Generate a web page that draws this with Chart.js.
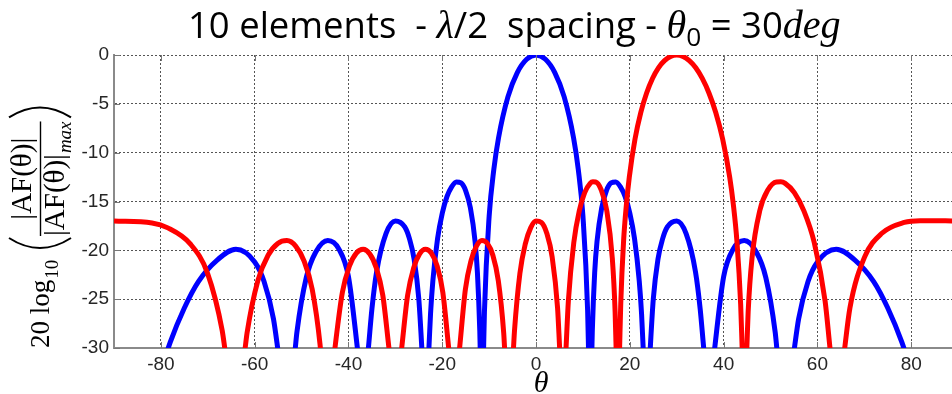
<!DOCTYPE html>
<html>
<head>
<meta charset="utf-8">
<script src="https://cdn.jsdelivr.net/npm/chart.js@4.4.1/dist/chart.umd.min.js"></script>
<style>
  body { margin: 0; background: #fff; }
  #wrap { width: 952px; height: 394px; position: relative; }
</style>
</head>
<body>
<div id="wrap"><canvas id="af"></canvas></div>
<script>
// tick labels
const xTicks = [-80, -60, -40, -20, 0, 20, 40, 60, 80];
const yTicks = [0, -5, -10, -15, -20, -25, -30];

// steering 0 deg (blue); nulls sit below the axis
const blueTheta = [-90, -84, -79, -78, -75, -72, -68, -64, -60, -58, -56, -55.1, -53.13, -51.4, -51, -49, -47, -44.4, -42, -40, -38.1, -36.87, -35.75, -35, -34, -32, -30, -28, -27, -26, -25, -24.3, -23.58, -22.9, -22.5, -22, -21, -20, -19, -18, -17, -16, -15, -14, -13, -12.5, -12, -11.9, -11.54, -11.2, -11, -10, -9, -8, -6, -4, -2, 0,
  2, 4, 6, 8, 9, 10, 11, 11.2, 11.54, 11.9, 12, 12.5, 13, 14, 15, 16, 17, 18, 19, 20, 21, 22, 22.5, 22.9, 23.58, 24.3, 25, 26, 27, 28, 30, 32, 34, 35, 35.75, 36.87, 38.1, 40, 42, 44.4, 47, 49, 51, 51.4, 53.13, 55.1, 56, 58, 60, 64, 68, 72, 75, 78, 79, 84, 90];
const blueDb = [-60, -41, -30.9, -29.4, -25.9, -23.2, -21.0, -19.9, -21.2, -23.2, -27.0, -30, -37.5, -30.3, -28.4, -22.8, -20.2, -19.0, -19.9, -22.7, -30, -35.5, -30, -26.0, -22.2, -18.3, -17.0, -17.6, -18.8, -20.9, -25.0, -30.5, -37, -30.6, -26.5, -23.1, -18.8, -16.2, -14.5, -13.5, -13.0, -13.1, -13.9, -15.65, -19.1, -22.3, -28.2, -30.3, -38, -30.4, -26.2, -16.5, -11.7, -8.48, -4.29, -1.80, -0.44, 0,
  -0.44, -1.80, -4.29, -8.48, -11.7, -16.5, -26.2, -30.4, -38, -30.3, -28.2, -22.3, -19.1, -15.65, -13.9, -13.1, -13.0, -13.5, -14.5, -16.2, -18.8, -23.1, -26.5, -30.6, -37, -30.5, -25.0, -20.9, -18.8, -17.6, -17.0, -18.3, -22.2, -26.0, -30, -35.5, -30, -22.7, -19.9, -19.0, -20.2, -22.8, -28.4, -30.3, -37.5, -30, -27.0, -23.2, -21.2, -19.9, -21.0, -23.2, -25.9, -29.4, -30.9, -41, -60];

// steering 30 deg (red)
const redTheta = [-90, -81.89, -78.52, -73.74, -70.05, -66.93, -66.38, -64.16, -62.03, -61.64, -59.32, -57.14, -55.08, -53.13, -51.26, -49.46, -47.73, -46.05, -45.64, -44.43, -42.88, -41.30, -39.79, -38.32, -36.87, -35.45, -34.06, -32.68, -31.37, -30, -28.65, -27.39, -26.10, -24.83, -23.58, -22.33, -21.10, -19.88, -18.63, -17.46, -16.30, -15.07, -13.89, -12.71, -11.54, -10.37, -9.21, -8.05, -6.89, -6.71, -5.74, -4.81, -4.59, -3.44, -2.29, -1.15, 0,
  1.15, 2.29, 3.44, 4.59, 5.03, 5.74, 6.40, 6.89, 8.05, 9.21, 10.37, 11.54, 12.12, 12.71, 13.89, 15.07, 16.26, 16.86, 17.07, 17.46, 17.82, 18.06, 18.66, 19.27, 19.88, 21.10, 22.33, 23.58, 24.83, 26.10, 27.39, 28.69, 30, 31.33, 32.68, 34.06, 35.45, 36.87, 38.32, 39.79, 41.30, 42.07, 42.84, 43.63, 43.95, 44.43, 44.95, 45.23, 46.05, 47.73, 49.46, 51.26, 52.19, 53.13, 55.08, 57.14, 59.32, 61.64, 62.68, 64.16, 65.82, 66.93, 70.05, 73.74, 78.52, 81.89, 90];
const redDb = [-17.0, -17.2, -17.7, -19.34, -22.35, -28.2, -30, -37.7, -30, -28.5, -23.1, -20.5, -19.3, -19.0, -19.57, -21.1, -24.0, -29.7, -32.1, -37, -30, -24.3, -21.6, -20.28, -19.9, -20.37, -21.8, -24.6, -30, -35.7, -30, -24.6, -21.8, -20.37, -19.9, -20.28, -21.6, -24.3, -30, -35.5, -30, -24.0, -21.1, -19.57, -19.0, -19.3, -20.5, -23.1, -28.5, -30, -37.8, -30, -28.2, -22.35, -19.34, -17.7, -17.0,
  -17.14, -18.25, -20.7, -25.9, -30, -36.5, -30, -25.2, -19.2, -15.98, -14.09, -13.14, -12.98, -13.0, -13.8, -15.9, -20.8, -26.3, -30, -36.8, -30, -25.5, -19.1, -15.3, -12.53, -8.61, -5.89, -3.89, -2.40, -1.31, -0.58, -0.14, 0, -0.14, -0.58, -1.31, -2.40, -3.89, -5.89, -8.61, -12.53, -15.3, -19.1, -25.5, -30, -36.8, -30, -26.3, -20.8, -15.9, -13.8, -13.0, -12.98, -13.14, -14.09, -15.98, -19.2, -25.2, -30, -36.5, -30, -25.9, -20.7, -18.25, -17.14, -16.96, -17.0];

if (blueTheta.length !== blueDb.length || redTheta.length !== redDb.length) {
  throw new Error('length mismatch ' + blueTheta.length + '/' + blueDb.length + ' ' + redTheta.length + '/' + redDb.length);
}

const pts = (xs, ys) => xs.map((x, i) => ({ x: x, y: ys[i] }));

const serif = '"Liberation Serif", "Times New Roman", serif';
const sans = '"Open Sans", "Liberation Sans", sans-serif';

// title, axis labels and the small inner tick marks
const decor = {
  id: 'decor',
  afterDraw(chart) {
    const ctx = chart.ctx;
    const area = chart.chartArea;
    const xs = chart.scales.x, ys = chart.scales.y;

    // inner tick marks
    ctx.save();
    ctx.strokeStyle = '#777';
    ctx.lineWidth = 1;
    ctx.beginPath();
    xTicks.forEach(v => {
      const px = Math.round(xs.getPixelForValue(v)) + 0.5;
      ctx.moveTo(px, area.bottom); ctx.lineTo(px, area.bottom - 6);
      ctx.moveTo(px, area.top); ctx.lineTo(px, area.top + 6);
    });
    yTicks.forEach(v => {
      const py = Math.round(ys.getPixelForValue(v)) + 0.5;
      ctx.moveTo(area.left, py); ctx.lineTo(area.left + 6, py);
    });
    ctx.stroke();
    ctx.restore();

    // title
    ctx.save();
    ctx.fillStyle = '#000';
    ctx.textBaseline = 'alphabetic';
    const base = 33;
    const parts = [
      { t: '10 elements  - ', f: (s) => `${s}px ${sans}` },
      { t: 'λ', f: (s) => `italic ${s * 1.1}px ${serif}` },
      { t: '/2  spacing - ', f: (s) => `${s}px ${sans}` },
      { t: 'θ', f: (s) => `italic ${s * 1.1}px ${serif}` },
      { t: '0', f: (s) => `${s * 0.72}px ${sans}`, dy: 8 },
      { t: ' = 30', f: (s) => `${s}px ${sans}` },
      { t: 'deg', f: (s) => `italic ${s * 1.1}px ${serif}` }
    ];
    let w = 0;
    parts.forEach(p => { ctx.font = p.f(base); w += ctx.measureText(p.t).width; });
    const size = base * 653 / w;
    let x = 188;
    parts.forEach(p => {
      ctx.font = p.f(size);
      ctx.fillText(p.t, x, 38 + (p.dy || 0));
      x += ctx.measureText(p.t).width;
    });
    ctx.restore();

    // x axis label
    ctx.save();
    ctx.fillStyle = '#000';
    ctx.font = `italic 30px ${serif}`;
    ctx.textAlign = 'center';
    ctx.textBaseline = 'alphabetic';
    ctx.fillText('θ', 541, 392);
    ctx.restore();

    // y axis label: 20 log10( |AF(θ)| / |AF(θ)|max ), rotated
    ctx.save();
    ctx.translate(40, 232);
    ctx.rotate(-Math.PI / 2);
    ctx.fillStyle = '#000';
    ctx.strokeStyle = '#000';
    ctx.textBaseline = 'alphabetic';
    ctx.textAlign = 'left';
    ctx.font = `27px ${serif}`;
    ctx.fillText('20 log', -116, 9);
    const lw = ctx.measureText('20 log').width;
    ctx.font = `19px ${serif}`;
    ctx.fillText('10', -116 + lw + 1, 18);
    // fraction
    ctx.font = `29px ${serif}`;
    const num = '|AF(θ)|';
    const nw = ctx.measureText(num).width;
    ctx.font = `italic 19px ${serif}`;
    const mw = ctx.measureText('max').width;
    const dw = nw + mw + 1;
    const fx0 = -4, fx1 = fx0 + dw;
    ctx.font = `29px ${serif}`;
    ctx.fillText(num, fx0 + (dw - nw) / 2, -9);
    ctx.fillText(num, fx0, 24);
    ctx.font = `italic 19px ${serif}`;
    ctx.fillText('max', fx0 + nw + 1, 31);
    ctx.lineWidth = 1.4;
    ctx.beginPath();
    ctx.moveTo(fx0, 0.5); ctx.lineTo(fx1, 0.5);
    ctx.stroke();
    // big parentheses
    ctx.lineWidth = 2;
    ctx.beginPath();
    ctx.moveTo(fx0 - 2, -31);
    ctx.quadraticCurveTo(fx0 - 22, 0, fx0 - 2, 31);
    ctx.stroke();
    ctx.beginPath();
    ctx.moveTo(fx1 + 4, -31);
    ctx.quadraticCurveTo(fx1 + 24, 0, fx1 + 4, 31);
    ctx.stroke();
    ctx.restore();
  }
};

const tickFont = { family: '"Liberation Sans", Arial, sans-serif', size: 19 };

new Chart(document.getElementById('af'), {
  type: 'line',
  data: {
    datasets: [
      {
        label: 'theta0 = 30',
        data: pts(redTheta, redDb),
        borderColor: '#ff0000',
        borderWidth: 5,
        pointRadius: 0,
        cubicInterpolationMode: 'monotone',
        fill: false,
        clip: 0
      },
      {
        label: 'theta0 = 0',
        data: pts(blueTheta, blueDb),
        borderColor: '#0000ff',
        borderWidth: 5,
        pointRadius: 0,
        cubicInterpolationMode: 'monotone',
        fill: false,
        clip: 0
      }
    ]
  },
  options: {
    responsive: true,
    maintainAspectRatio: false,
    animation: false,
    layout: { padding: { top: 55, left: 0, right: 0, bottom: 0 } },
    plugins: { legend: { display: false }, tooltip: { enabled: false }, title: { display: false } },
    scales: {
      x: {
        type: 'linear',
        min: -90,
        max: 88.7,
        afterBuildTicks: (s) => { s.ticks = xTicks.map(v => ({ value: v })); },
        afterFit: (s) => { s.height = 46; },
        ticks: { font: tickFont, color: '#262626', padding: 5, maxRotation: 0, autoSkip: false },
        grid: { color: '#555', lineWidth: 1, drawTicks: false, tickLength: 0 },
        border: { display: true, color: '#8a8a8a', width: 2, dash: [2, 2] }
      },
      y: {
        type: 'linear',
        min: -30,
        max: 0,
        afterBuildTicks: (s) => { s.ticks = yTicks.map(v => ({ value: v })); },
        afterFit: (s) => { s.width = 114; },
        ticks: { font: tickFont, color: '#262626', padding: 5, autoSkip: false },
        grid: { color: '#555', lineWidth: 1, drawTicks: false, tickLength: 0 },
        border: { display: true, color: '#8a8a8a', width: 2, dash: [2, 2] }
      }
    }
  },
  plugins: [decor]
});
</script>
</body>
</html>
